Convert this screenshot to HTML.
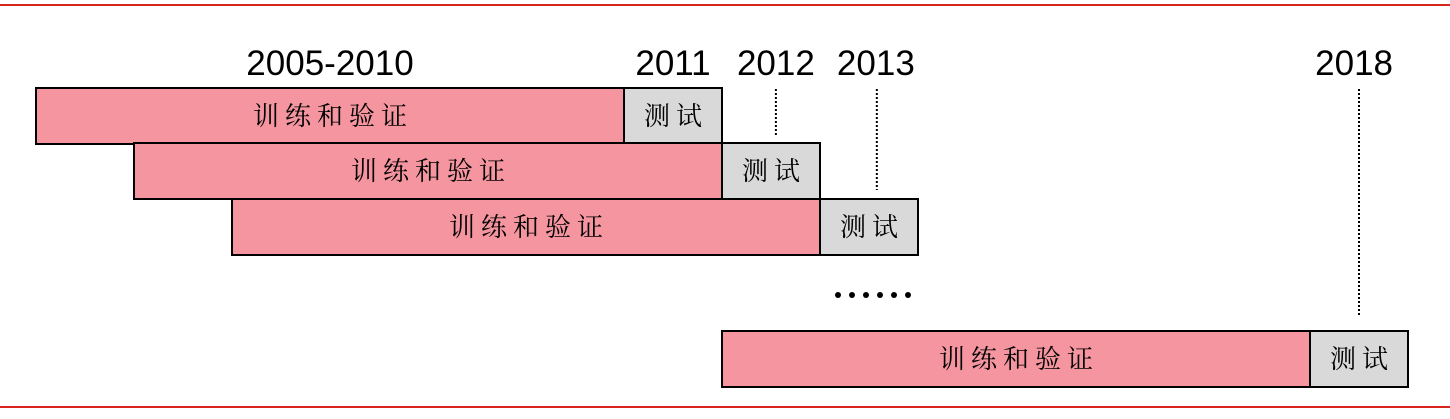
<!DOCTYPE html>
<html><head><meta charset="utf-8"><style>
body{margin:0;background:#fff;width:1450px;height:414px;overflow:hidden}
svg text{font-family:"Liberation Sans",sans-serif}
.cn{font-family:"Noto Serif CJK SC","Liberation Serif","WenQuanYi Zen Hei",serif;font-size:26px;letter-spacing:6px}
</style></head><body>
<svg id="chart" width="1450" height="414"></svg>
<script>
const rowTrainStart=[2005,2006,2007,2012];
const rowTestYear=[2011,2012,2013,2018];
const rowTops=[88,143,199,331];
const yearLabels=["2005-2010","2011","2012","2013","2018"];
const yearLabelCenters=[2008,2011.5,2012.55,2013.57,2018.45];
const dottedYears=[2012.55,2013.58,2018.5];
const dottedEnds=[135,190,316];
const NS="http://www.w3.org/2000/svg";
const svg=document.getElementById('chart');
const x=y=>36+(y-2005)*98;
function mk(t,a){const e=document.createElementNS(NS,t);for(const k in a)e.setAttribute(k,a[k]);svg.appendChild(e);return e;}
let l=mk('line',{x1:0,x2:1450,y1:5,y2:5,stroke:'#d9261c','stroke-width':2});


l=mk('line',{x1:0,x2:1450,y1:407,y2:407,stroke:'#d9261c','stroke-width':2});


const h=56;
rowTrainStart.forEach((s,i)=>{
 const t=rowTestYear[i],y=rowTops[i];
 let r=mk('rect',{x:x(s),y:y,width:x(t)-x(s),height:h,fill:'#f4959f',stroke:'#000','stroke-width':2});
 
 
 let g=mk('rect',{x:x(t),y:y,width:98,height:h,fill:'#d9d9d9',stroke:'#000','stroke-width':2});
 
 
 let tx=mk('text',{x:(x(s)+x(t))/2+3,y:y+h/2+9,'text-anchor':'middle',class:'cn'});
 tx.textContent='训练和验证';
 
 
 let tt=mk('text',{x:x(t)+52,y:y+h/2+9,'text-anchor':'middle',class:'cn'});
 tt.textContent='测试';
 
 
});
yearLabels.forEach((s,i)=>{
 let t=mk('text',{x:x(yearLabelCenters[i]),y:75,'text-anchor':'middle','font-size':35});
 t.textContent=s;
 
 
});
dottedYears.forEach((d,i)=>{
 let ln=mk('line',{x1:x(d),x2:x(d),y1:89,y2:dottedEnds[i],stroke:'#000','stroke-width':2,'stroke-dasharray':'2 2'});
 
 
});
for(let k=0;k<6;k++){
 let c=mk('circle',{cx:838+k*14,cy:295,r:3,fill:'#000'});
 
 
}
</script>
</body></html>
